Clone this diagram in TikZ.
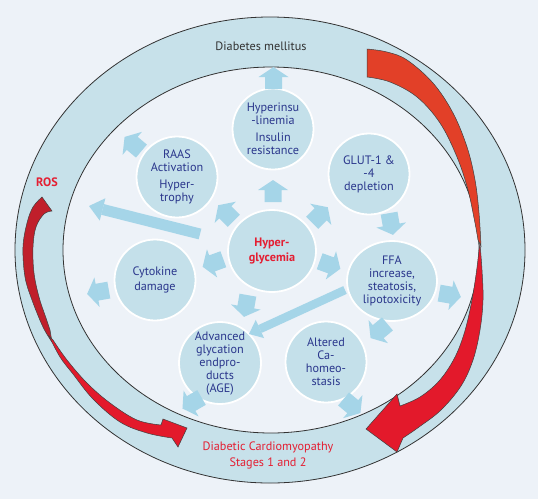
\documentclass[tikz,border=0pt]{standalone}
\usepackage{fontspec}
\setmainfont{PT Sans}
\usetikzlibrary{shapes.geometric,arrows.meta}
\definecolor{bg}{RGB}{237,242,248}
\definecolor{ringfill}{RGB}{199,225,234}
\definecolor{bubblefill}{RGB}{196,224,234}
\definecolor{arrowblue}{RGB}{165,213,232}
\definecolor{txtblue}{RGB}{42,54,140}
\definecolor{txtred}{RGB}{228,30,50}
\definecolor{redA}{RGB}{226,64,40}
\definecolor{redB}{RGB}{227,25,43}
\definecolor{redC}{RGB}{192,31,43}
\definecolor{linegray}{RGB}{50,50,50}
\begin{document}
\begin{tikzpicture}[x=1pt,y=-1pt,
  bubble/.style={circle, fill=bubblefill, draw=white, line width=1.8pt, minimum size=81pt,
    inner sep=0pt, align=center, text=txtblue, font=\fontsize{12.2}{13}\selectfont},
  ringline/.style={draw=linegray, line width=0.8pt},
  redarrow/.style={draw=black!75, line width=0.5pt},
  ringtext/.style={inner sep=0pt, align=center, font=\fontsize{12.2}{16}\selectfont},
  longarr/.style={draw=arrowblue, line width=#1},
  fatarrow/.pic={\fill[arrowblue] (-11,-8.5) -- (1,-8.5) -- (1,-15) -- (11,0) -- (1,15) -- (1,8.5) -- (-11,8.5) -- cycle;}
]
\useasboundingbox (0,0) rectangle (538,499);
\fill[bg] (0,0) rectangle (538,499);

% ring
\filldraw[fill=ringfill, ringline] (270,250) ellipse [x radius=255, y radius=233];
\filldraw[fill=bg, ringline] (271,250) ellipse [x radius=208, y radius=183];

% right red arrow (upper orange part)
\filldraw[fill=redA, redarrow]
  plot[smooth, tension=0.6] coordinates {(367,49) (387,52) (407,60) (433,83) (453,113) (467,147) (475,180) (479,213) (481,246)}
  -- plot[smooth, tension=0.6] coordinates {(478,240) (475,223) (468,190) (457,157) (440,123) (417,97) (390,82) (367,77)}
  -- cycle;
% right red arrow (lower part)
\filldraw[fill=redB, redarrow]
  plot[smooth, tension=0.6] coordinates {(480,244) (482,270) (483,300) (480,330) (473,360) (461,386) (441,410) (419,427) (403,438)}
  -- (397,452) -- (366,429) -- (397,394)
  -- plot[smooth, tension=0.6] coordinates {(400,406) (420,397) (439,381) (454,359) (464,334) (471,305) (476,275) (479,250)}
  -- cycle;

% left red arrow (upper dark part)
\filldraw[fill=redC, redarrow]
  plot[smooth, tension=0.6] coordinates {(42,197) (33,207) (27,223) (23,247) (25,277) (32,300) (43,327) (52,342)}
  -- plot[smooth, tension=0.6] coordinates {(50,330) (46,318) (39,297) (34,273) (33,247) (36,227) (44,214) (52,211)}
  -- cycle;
% left red arrow (lower part)
\filldraw[fill=redB, redarrow]
  plot[smooth, tension=0.6] coordinates {(49,336) (60,357) (73,374) (93,399) (120,422) (147,433) (172,438)}
  -- (178,447) -- (187,428) -- (163,419)
  -- plot[smooth, tension=0.6] coordinates {(161,425) (137,420) (110,403) (87,383) (67,360) (53,340)}
  -- cycle;

% bubbles
\node[bubble] (hi) at (273,129) {Hyperinsu\\-linemia\\[4pt]Insulin\\resistance};
\node[bubble] (raas) at (177,177) {RAAS\\Activation\\[4pt]Hyper-\\trophy};
\node[bubble] (glut) at (369,174) {GLUT-1 \&\\-4\\depletion};
\node[bubble, ellipse, minimum width=88pt, minimum height=82pt, text=txtred,
      font=\fontsize{12.2}{15.5}\selectfont\bfseries] (hg) at (272,251) {Hyper-\\glycemia};
\node[bubble, font=\fontsize{12.2}{14.5}\selectfont] (cyto) at (155,280) {Cytokine\\damage};
\node[bubble, ellipse, minimum width=90pt, minimum height=80pt] (ffa) at (392,281) {FFA\\increase,\\steatosis,\\lipotoxicity};
\node[bubble, minimum size=82pt] (age) at (220,363) {Advanced\\glycation\\endpro-\\ducts\\(AGE)};
\node[bubble] (ca) at (326,362) {Altered\\Ca-\\homeo-\\stasis};

% small block arrows
\pic[rotate=90] at (273.5,78) {fatarrow};
\pic[rotate=90] at (273,191) {fatarrow};
\pic[rotate=135] at (226,213) {fatarrow};
\pic[rotate=45] at (320,215) {fatarrow};
\pic[rotate=140] at (133,144) {fatarrow};
\pic[rotate=-80] at (391,224) {fatarrow};
\pic[rotate=200] at (213,263) {fatarrow};
\pic[rotate=190] at (98,292) {fatarrow};
\pic[rotate=-20] at (330,265) {fatarrow};
\pic[rotate=-10] at (450,295) {fatarrow};
\pic[rotate=-100] at (246,306) {fatarrow};
\pic[rotate=-140] at (379,331) {fatarrow};
\pic[rotate=-150] at (192,403) {fatarrow};
\pic[rotate=-40] at (352,406) {fatarrow};

% long arrows
\coordinate (l1s) at (200,234);
\coordinate (l1e) at (89,206);
\draw[longarr=11pt, -{Triangle[width=23pt,length=14pt,line width=0pt]}] (l1s) -- (l1e);
\coordinate (l2s) at (345,290);
\coordinate (l2e) at (249,334);
\draw[longarr=8.5pt, -{Triangle[width=20pt,length=12pt,line width=0pt]}] (l2s) -- (l2e);

% ring labels
\node[ringtext, text=linegray] (dm) at (261,46) {Diabetes mellitus};
\node[ringtext, text=txtred, font=\fontsize{12.2}{16}\selectfont\bfseries] (ros) at (47,182) {ROS};
\node[ringtext, text=txtred] (dcm) at (268,455) {Diabetic Cardiomyopathy\\Stages 1 and 2};
\end{tikzpicture}
\end{document}
